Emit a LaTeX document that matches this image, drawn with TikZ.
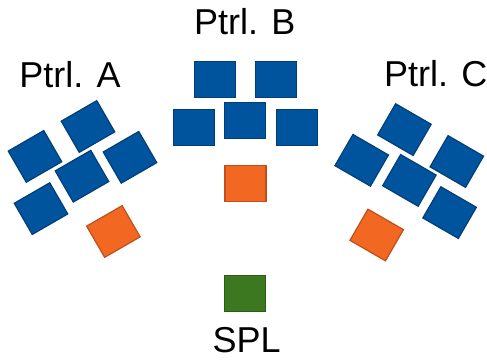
\documentclass[tikz,border=0pt]{standalone}
\usepackage{fontspec}
\setmainfont{Liberation Sans}
\definecolor{pblue}{RGB}{0,84,158}
\definecolor{pblueb}{RGB}{0,62,120}
\definecolor{porange}{RGB}{242,103,34}
\definecolor{porangeb}{RGB}{190,80,28}
\definecolor{pgreen}{RGB}{60,120,32}
\definecolor{pgreenb}{RGB}{44,92,22}
\begin{document}
\begin{tikzpicture}[x=1pt,y=-1pt,
  sq/.style={rectangle,minimum width=41pt,minimum height=36pt,inner sep=0pt,line width=1.2pt},
  bluesq/.style={sq,fill=pblue,draw=pblueb},
  orangesq/.style={sq,fill=porange,draw=porangeb},
  greensq/.style={sq,fill=pgreen,draw=pgreenb},
  lbl/.style={anchor=base,inner sep=0pt,font=\fontsize{36}{40}\selectfont}]
\useasboundingbox (0,0) rectangle (487,360);
% Patrol B
\node[bluesq] (b1) at (215,79.7) {};
\node[bluesq] (b2) at (276.2,79.7) {};
\node[bluesq] (b3) at (194.2,127.3) {};
\node[bluesq] (b4) at (245.3,120.3) {};
\node[bluesq] (b5) at (296.8,127.3) {};
\node[orangesq] (bo) at (245.5,183.8) {};
% Patrol A
\node[bluesq,rotate=30] (a1) at (88,126.5) {};
\node[bluesq,rotate=30] (a2) at (35,156.4) {};
\node[bluesq,rotate=30] (a3) at (82,176.2) {};
\node[bluesq,rotate=30] (a4) at (130,157.3) {};
\node[bluesq,rotate=30] (a5) at (41,208.6) {};
\node[orangesq,rotate=30] (ao) at (113.4,231.5) {};
% Patrol C
\node[bluesq,rotate=-30] (c1) at (404.4,129.6) {};
\node[bluesq,rotate=-30] (c2) at (361.7,160.3) {};
\node[bluesq,rotate=-30] (c3) at (409.4,180.4) {};
\node[bluesq,rotate=-30] (c4) at (456.8,161.5) {};
\node[bluesq,rotate=-30] (c5) at (449.6,212.6) {};
\node[orangesq,rotate=-30] (co) at (376.7,235) {};
% SPL
\node[greensq] (spl) at (245.2,293.2) {};
% labels
\node[lbl] (la) at (70,87.3) {Ptrl. A};
\node[lbl] (lb) at (244.7,34.3) {Ptrl. B};
\node[lbl] (lc) at (435.8,86.7) {Ptrl. C};
\node[lbl] (ls) at (246.7,352.7) {SPL};
\end{tikzpicture}
\end{document}
